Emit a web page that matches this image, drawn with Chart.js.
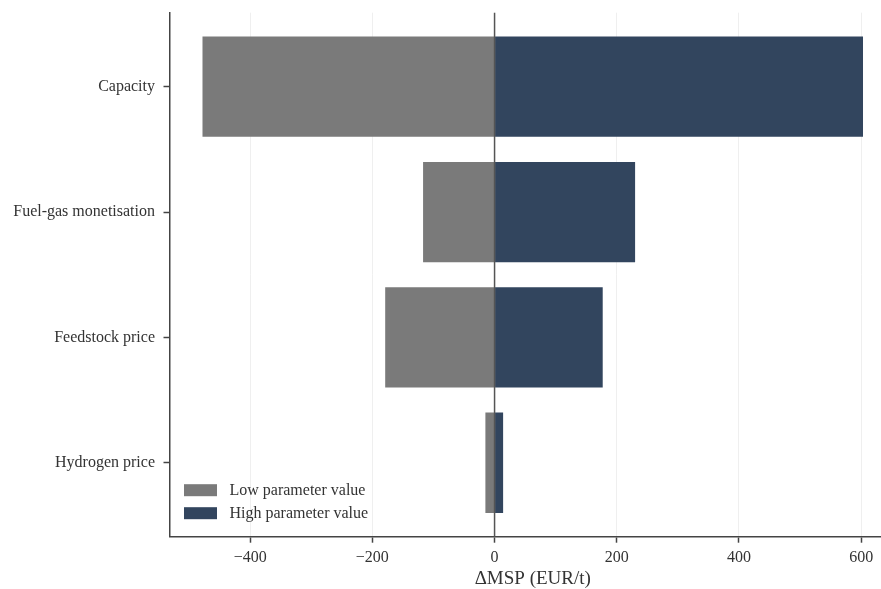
<!DOCTYPE html>
<html>
<head>
<meta charset="utf-8">
<script src="https://cdn.jsdelivr.net/npm/chart.js@4.4.1/dist/chart.umd.min.js"></script>
<style>
  html, body { margin: 0; padding: 0; background: #fff; overflow: hidden; }
  #wrap { width: 900px; height: 589px; position: relative; }
</style>
</head>
<body>
<div id="wrap"><canvas id="c"></canvas></div>
<script>
// Tornado chart: change in minimum selling price for low / high parameter values
const categories = ['Capacity', 'Fuel-gas monetisation', 'Feedstock price', 'Hydrogen price'];
const lowValues  = [-478, -117, -179, -15];
const highValues = [603, 230, 177, 14];
const xTicks = [-400, -200, 0, 200, 400, 600];
const seriesNames = ['Low parameter value', 'High parameter value'];
const seriesColors = ['#7a7a7a', '#32455e'];

const FONT = "'Liberation Serif', 'Times New Roman', serif";
const AXIS = '#444444';

const fmt = v => (v < 0 ? '\u2212' + Math.abs(v) : String(v));

// dark zero reference line over the bars
const zeroLine = {
  id: 'zeroLine',
  afterDatasetsDraw(chart) {
    const { ctx, chartArea } = chart;
    const x = chart.scales.x.getPixelForValue(0);
    ctx.save();
    ctx.strokeStyle = '#555555';
    ctx.lineWidth = 1.5;
    ctx.beginPath();
    ctx.moveTo(x, chartArea.top);
    ctx.lineTo(x, chartArea.bottom);
    ctx.stroke();
    ctx.restore();
  }
};

// legend inside the plot, lower left
const innerLegend = {
  id: 'innerLegend',
  afterDraw(chart) {
    const { ctx, chartArea } = chart;
    const x0 = chartArea.left + 14.5;
    let y0 = chartArea.bottom - 52.5;
    ctx.save();
    ctx.font = '16px ' + FONT;
    ctx.textBaseline = 'middle';
    ctx.textAlign = 'left';
    chart.data.datasets.forEach(ds => {
      ctx.fillStyle = ds.backgroundColor;
      ctx.fillRect(x0, y0, 33, 12);
      ctx.fillStyle = '#333333';
      ctx.fillText(ds.label, x0 + 45.5, y0 + 6.5);
      y0 += 23;
    });
    ctx.restore();
  }
};

new Chart(document.getElementById('c'), {
  type: 'bar',
  data: {
    datasets: [
      {
        label: seriesNames[0],
        data: categories.map((c, i) => ({ x: lowValues[i], y: i })),
        backgroundColor: seriesColors[0]
      },
      {
        label: seriesNames[1],
        data: categories.map((c, i) => ({ x: highValues[i], y: i })),
        backgroundColor: seriesColors[1]
      }
    ]
  },
  options: {
    indexAxis: 'y',
    responsive: true,
    maintainAspectRatio: false,
    animation: false,
    grouped: false,
    categoryPercentage: 1,
    barPercentage: 0.8,
    layout: { padding: { top: 12.7, right: 4, bottom: 0, left: 0 } },
    plugins: {
      legend: { display: false },
      tooltip: { enabled: false }
    },
    scales: {
      x: {
        type: 'linear',
        min: -532,
        max: 657,
        afterBuildTicks: s => { s.ticks = xTicks.map(v => ({ value: v })); },
        afterFit: s => { s.height = 52.3; },
        ticks: {
          callback: v => fmt(v),
          font: { family: FONT, size: 16 },
          color: '#333333',
          padding: 5,
          maxRotation: 0
        },
        grid: {
          color: '#efefef',
          lineWidth: 1,
          tickColor: AXIS,
          tickLength: 6,
          tickWidth: 1.5
        },
        border: { color: AXIS, width: 1.5 },
        title: {
          display: true,
          text: '\u0394MSP (EUR/t)',
          font: { family: FONT, size: 19, lineHeight: 1 },
          color: '#333333',
          padding: 0
        }
      },
      y: {
        type: 'linear',
        reverse: true,
        offset: false,
        min: -0.59,
        max: 3.59,
        afterBuildTicks: s => { s.ticks = categories.map((c, i) => ({ value: i })); },
        afterFit: s => { s.width = 169.5; s.paddingTop = 0; s.paddingBottom = 0; },
        ticks: {
          callback: v => categories[v],
          font: { family: FONT, size: 16 },
          color: '#333333',
          padding: 8.5
        },
        grid: {
          offset: false,
          drawOnChartArea: false,
          tickColor: AXIS,
          tickLength: 6,
          tickWidth: 1.5
        },
        border: { color: AXIS, width: 1.5 }
      }
    }
  },
  plugins: [zeroLine, innerLegend]
});
</script>
</body>
</html>
